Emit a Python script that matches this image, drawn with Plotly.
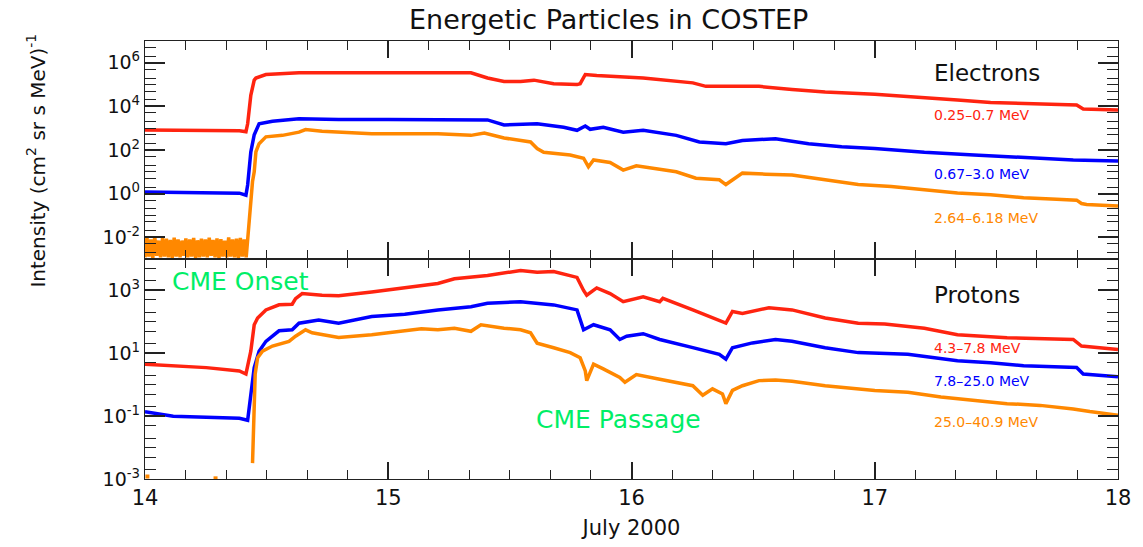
import math
import plotly.graph_objects as go
from plotly.subplots import make_subplots

# ---- Electrons (COSTEP), time in days of July 2000 ----
e1_t = [14.0, 14.116, 14.252, 14.388, 14.415, 14.422, 14.435, 14.449, 14.456, 14.497,
        14.633, 14.796, 15.0, 15.204, 15.34, 15.408, 15.476, 15.544, 15.599, 15.68,
        15.776, 15.789, 15.81, 15.857, 15.952, 16.048, 16.252, 16.306, 16.388, 16.524,
        16.66, 16.796, 17.0, 17.204, 17.34, 17.476, 17.612, 17.83, 17.857, 18.0]
e1_v = [830, 800, 800, 760, 690, 1.6e3, 3.2e4, 1.6e5, 2.0e5, 2.9e5,
        3.5e5, 3.5e5, 3.5e5, 3.2e5, 3.5e5, 2.0e5, 1.4e5, 1.4e5, 1.6e5, 1.1e5,
        1.0e5, 1.1e5, 2.9e5, 2.6e5, 2.2e5, 2.0e5, 1.2e5, 8.3e4, 8.3e4, 8.3e4,
        6.0e4, 4.6e4, 3.6e4, 2.6e4, 1.95e4, 1.5e4, 1.4e4, 1.17e4, 7.6e3, 6.8e3]

e2_t = [14.0, 14.116, 14.252, 14.388, 14.415, 14.422, 14.435, 14.449, 14.469, 14.524,
        14.633, 14.796, 15.0, 15.204, 15.408, 15.476, 15.612, 15.721, 15.776, 15.81,
        15.83, 15.884, 15.966, 16.048, 16.184, 16.279, 16.388, 16.456, 16.592, 16.728,
        16.864, 17.0, 17.204, 17.408, 17.612, 17.816, 18.0]
e2_v = [1.2, 1.15, 1.1, 1.05, 0.85, 2.5, 80, 500, 1.6e3, 2.1e3,
        2.7e3, 2.5e3, 2.5e3, 2.5e3, 2.4e3, 1.4e3, 1.6e3, 1.1e3, 800, 1.26e3,
        890, 1.1e3, 660, 800, 470, 235, 195, 275, 330, 195,
        140, 117, 78, 59, 46, 35, 31]

# count-limited background before the onset, then the event profile
e3_t = [14.000, 14.008, 14.016, 14.024, 14.032, 14.040, 14.048, 14.056, 14.064, 14.072,
        14.080, 14.088, 14.096, 14.104, 14.112, 14.120, 14.128, 14.136, 14.144, 14.152,
        14.160, 14.168, 14.176, 14.184, 14.192, 14.200, 14.208, 14.216, 14.224, 14.232,
        14.240, 14.248, 14.256, 14.264, 14.272, 14.280, 14.288, 14.296, 14.304, 14.312,
        14.320, 14.328, 14.336, 14.344, 14.352, 14.360, 14.368, 14.376, 14.384, 14.392,
        14.400, 14.408, 14.416,
        14.422, 14.429, 14.442, 14.449, 14.456, 14.469, 14.497, 14.565, 14.633, 14.66,
        14.728, 14.932, 15.204, 15.34, 15.395, 15.476, 15.585, 15.612, 15.639, 15.748,
        15.803, 15.823, 15.844, 15.912, 15.966, 16.02, 16.184, 16.265, 16.361, 16.388,
        16.415, 16.456, 16.551, 16.66, 16.796, 16.932, 17.068, 17.204, 17.34, 17.476,
        17.612, 17.748, 17.83, 17.85, 17.871, 18.0]
e3_v = [0.0012, 0.0095, 0.0013, 0.0080, 0.0011, 0.0105, 0.0014, 0.0070, 0.0012, 0.0090,
        0.0013, 0.0085, 0.0012, 0.0075, 0.0011, 0.0095, 0.0013, 0.0080, 0.0012, 0.0070,
        0.0014, 0.0088, 0.0012, 0.0078, 0.0013, 0.0092, 0.0011, 0.0072, 0.0012, 0.0085,
        0.0013, 0.0080, 0.0012, 0.0095, 0.0014, 0.0075, 0.0012, 0.0088, 0.0011, 0.0082,
        0.0013, 0.0070, 0.0012, 0.0098, 0.0013, 0.0080, 0.0012, 0.0086, 0.0011, 0.0092,
        0.0013, 0.0078, 0.0012,
        0.01, 0.08, 3.6, 10, 83, 195, 400, 470, 660, 870,
        720, 560, 560, 470, 600, 355, 235, 117, 78, 59,
        42, 17, 35, 27, 12, 19, 10, 5.1, 4.3, 2.6,
        4.3, 8.7, 7.8, 7.2, 4.3, 2.6, 2.1, 1.5, 1.07, 0.89,
        0.65, 0.55, 0.5, 0.35, 0.32, 0.27]

# ---- Protons ----
p1_t = [14.0, 14.116, 14.252, 14.388, 14.415, 14.435, 14.449, 14.463, 14.497, 14.551,
        14.605, 14.619, 14.646, 14.728, 14.796, 14.932, 15.068, 15.204, 15.272, 15.408,
        15.544, 15.612, 15.68, 15.776, 15.803, 15.816, 15.857, 15.912, 15.966, 16.048,
        16.116, 16.129, 16.252, 16.361, 16.388, 16.415, 16.456, 16.565, 16.66, 16.796,
        16.932, 17.041, 17.204, 17.34, 17.544, 17.816, 17.85, 18.0]
p1_v = [4.5, 4.0, 3.5, 2.75, 2.2, 11.7, 81, 132, 240, 350,
        363, 550, 794, 708, 676, 891, 1.2e3, 1.66e3, 2.34e3, 3.0e3,
        4.3e3, 3.8e3, 4.0e3, 2.6e3, 1.0e3, 708, 1.2e3, 794, 437, 631,
        437, 562, 240, 115, 91, 214, 186, 282, 240, 132,
        91, 85, 63, 39, 31, 27.5, 17, 13.2]

p2_t = [14.0, 14.116, 14.252, 14.388, 14.422, 14.435, 14.449, 14.469, 14.497, 14.551,
        14.605, 14.633, 14.714, 14.796, 14.932, 15.068, 15.204, 15.34, 15.408, 15.544,
        15.68, 15.776, 15.803, 15.844, 15.912, 15.952, 15.98, 16.048, 16.116, 16.252,
        16.361, 16.388, 16.415, 16.497, 16.592, 16.66, 16.796, 16.932, 17.136, 17.34,
        17.476, 17.612, 17.83, 17.857, 18.0]
p2_v = [0.138, 0.1, 0.093, 0.085, 0.074, 0.41, 3.5, 11.7, 24, 52,
        56, 91, 115, 91, 148, 174, 240, 302, 389, 437,
        347, 240, 56, 81, 56, 27.5, 35, 42, 27.5, 15.1,
        9.3, 6.5, 15.1, 21.4, 27.5, 24, 15.1, 10.5, 9.3, 5.75,
        5.0, 4.0, 3.55, 2.2, 1.8]

p3_t = [14.442, 14.453, 14.463, 14.483, 14.524, 14.592, 14.619, 14.66, 14.687, 14.741,
        14.796, 14.932, 15.068, 15.136, 15.204, 15.272, 15.34, 15.381, 15.476, 15.544,
        15.585, 15.612, 15.68, 15.748, 15.789, 15.81, 15.816, 15.844, 15.884, 15.952,
        15.973, 16.02, 16.116, 16.252, 16.293, 16.333, 16.374, 16.388, 16.415, 16.456,
        16.524, 16.592, 16.66, 16.796, 17.0, 17.136, 17.272, 17.408, 17.544, 17.68,
        17.816, 17.884, 18.0]
p3_v = [0.0032, 2.2, 7.2, 11.7, 17, 24, 35, 56, 45, 39,
        32, 39, 50, 60, 56, 63, 50, 81, 63, 56,
        45, 21, 15, 10.5, 7.2, 2.75, 1.35, 4.5, 3.2, 1.7,
        1.2, 2.1, 1.5, 0.93, 0.46, 0.74, 0.51, 0.25, 0.66, 0.93,
        1.35, 1.4, 1.3, 0.93, 0.66, 0.58, 0.41, 0.32, 0.25, 0.22,
        0.17, 0.14, 0.107]
p3_pre_t = [14.01, 14.29]
p3_pre_v = [1.2e-3, 1.05e-3]

e_labels = ["0.25\u20130.7 MeV", "0.67\u20133.0 MeV", "2.64\u20136.18 MeV"]
p_labels = ["4.3\u20137.8 MeV", "7.8\u201325.0 MeV", "25.0\u201340.9 MeV"]
label_y_e = [4.0e3, 7.8, 0.08]
label_y_p = [15, 1.3, 0.066]

top_exp = list(range(-3, 8))
top_lab = [-2, 0, 2, 4, 6]
bot_exp = list(range(-3, 5))
bot_lab = [-3, -1, 1, 3]

RED, BLUE, ORANGE, GREEN = "#ff2410", "#0000ff", "#ff8800", "#00ee66"
FONT = "DejaVu Sans"
INK = "#111"

fig = make_subplots(rows=2, cols=1, shared_xaxes=True, vertical_spacing=0)

for t, v, c in [(e1_t, e1_v, RED), (e2_t, e2_v, BLUE), (e3_t, e3_v, ORANGE)]:
    fig.add_trace(go.Scatter(x=t, y=v, mode="lines", line=dict(color=c, width=3.5),
                             showlegend=False), row=1, col=1)
for t, v, c in [(p1_t, p1_v, RED), (p2_t, p2_v, BLUE), (p3_t, p3_v, ORANGE)]:
    fig.add_trace(go.Scatter(x=t, y=v, mode="lines", line=dict(color=c, width=3.5),
                             showlegend=False), row=2, col=1)
fig.add_trace(go.Scatter(x=p3_pre_t, y=p3_pre_v, mode="markers",
                         marker=dict(color=ORANGE, size=4, symbol="square"),
                         showlegend=False), row=2, col=1)

axis_common = dict(showline=True, linecolor="#222", linewidth=1.3, mirror="allticks",
                   ticks="inside", tickcolor="#222", showgrid=False, zeroline=False)

fig.update_xaxes(range=[14, 18], tick0=14, dtick=1, ticklen=17, tickwidth=1.5,
                 minor=dict(dtick=1 / 6, ticklen=9, ticks="inside", tickcolor="#222",
                            tickwidth=1.2, showgrid=False),
                 **axis_common)
fig.update_xaxes(title=dict(text="July 2000", font=dict(size=21, family=FONT, color=INK),
                            standoff=10),
                 tickfont=dict(size=21, family=FONT, color=INK), row=2, col=1)


def log_axis(exps, labelled):
    minor_vals = [m * 10 ** e for e in exps for m in (2, 5)]
    minor_vals += [10 ** e for e in exps if e not in labelled]
    return dict(type="log", range=[exps[0], exps[-1]], tickmode="array",
                tickvals=[10 ** e for e in labelled],
                ticktext=[f"10<sup>{e}</sup>" for e in labelled],
                ticklen=20, tickwidth=1.5,
                minor=dict(tickmode="array", tickvals=minor_vals, ticklen=11,
                           ticks="inside", tickcolor="#222", tickwidth=1.2,
                           showgrid=False),
                tickfont=dict(size=19, family=FONT, color=INK), **axis_common)


fig.update_yaxes(row=1, col=1, **log_axis(top_exp, top_lab))
fig.update_yaxes(row=2, col=1, **log_axis(bot_exp, bot_lab))

# panel domains: 444 px of plot height split 221 / 223
fig.update_layout(yaxis=dict(domain=[0.502252, 1.0]), yaxis2=dict(domain=[0.0, 0.502252]))

ann = []
ann.append(dict(text="Energetic Particles in COSTEP", xref="paper", yref="paper",
                x=0.4765, y=1.0, yshift=22, xanchor="center", yanchor="middle",
                showarrow=False, font=dict(size=27, family=FONT, color=INK)))
ann.append(dict(text="Intensity (cm<sup>2</sup> sr s MeV)<sup>-1</sup>", xref="paper",
                yref="paper", x=-0.112, y=0.727, textangle=-90, xanchor="center",
                yanchor="middle", showarrow=False,
                font=dict(size=20, family=FONT, color=INK)))
ann.append(dict(text="Electrons", xref="paper", yref="y", x=0.809, y=5.55,
                xanchor="left", yanchor="middle", showarrow=False,
                font=dict(size=23, family=FONT, color=INK)))
ann.append(dict(text="Protons", xref="paper", yref="y2", x=0.809, y=2.87,
                xanchor="left", yanchor="middle", showarrow=False,
                font=dict(size=23, family=FONT, color=INK)))
for txt, yy, c in zip(e_labels, label_y_e, [RED, BLUE, ORANGE]):
    ann.append(dict(text=txt, xref="paper", yref="y", x=0.809, y=math.log10(yy),
                    xanchor="left", yanchor="middle", showarrow=False,
                    font=dict(size=14, family=FONT, color=c)))
for txt, yy, c in zip(p_labels, label_y_p, [RED, BLUE, ORANGE]):
    ann.append(dict(text=txt, xref="paper", yref="y2", x=0.809, y=math.log10(yy),
                    xanchor="left", yanchor="middle", showarrow=False,
                    font=dict(size=14, family=FONT, color=c)))
ann.append(dict(text="CME Onset", xref="paper", yref="y2", x=0.0255, y=3.3,
                xanchor="left", yanchor="middle", showarrow=False,
                font=dict(size=25, family=FONT, color=GREEN)))
ann.append(dict(text="CME Passage", xref="paper", yref="y2", x=0.4, y=-1.12,
                xanchor="left", yanchor="middle", showarrow=False,
                font=dict(size=25, family=FONT, color=GREEN)))

fig.update_layout(width=1143, height=547, margin=dict(l=145, r=18, t=41, b=62),
                  paper_bgcolor="white", plot_bgcolor="white", annotations=ann,
                  font=dict(family=FONT, color=INK))

fig.write_html("out.html")
